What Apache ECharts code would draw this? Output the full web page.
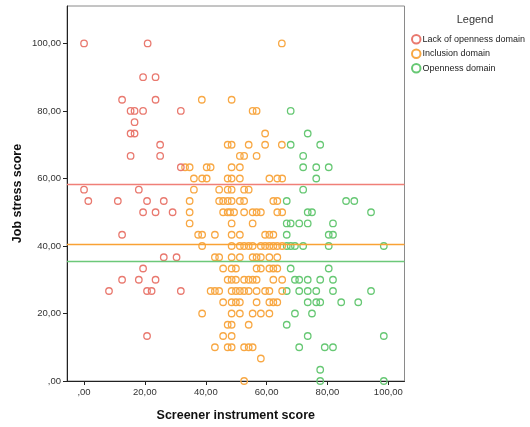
<!DOCTYPE html>
<html>
<head>
<meta charset="utf-8">
<script src="https://cdn.jsdelivr.net/npm/echarts@6/dist/echarts.min.js"></script>
<style>html,body{margin:0;padding:0;background:#fff}#c{width:530px;height:427px}</style>
</head>
<body>
<div id="c"></div>
<script>
// ---- data ----
const seriesNames = ['Lack of openness domain', 'Inclusion domain', 'Openness domain'];
const tickValues = [0, 20, 40, 60, 80, 100];
const meanLines = [58.2, 40.6, 35.4];

const lackPoints = [
  [0,100],[20.9,100],[19.4,90],[23.5,90],[12.5,83.33],[23.5,83.33],
  [15.3,80],[16.6,80],[19.4,80],[31.8,80],[16.6,76.67],[15.3,73.33],[16.6,73.33],
  [25,70],[15.3,66.67],[25,66.67],[31.8,63.33],[0,56.67],[18,56.67],
  [1.4,53.33],[11.1,53.33],[20.7,53.33],[26.2,53.33],[19.4,50],[23.5,50],[29.1,50],
  [12.5,43.33],[26.2,36.67],[30.4,36.67],[19.4,33.33],[12.5,30],[18,30],[23.5,30],
  [8.2,26.67],[20.7,26.67],[22.2,26.67],[31.8,26.67],[20.7,13.33]
];

const inclusionPoints = [
  [65,100],
  [38.7,83.33],[48.5,83.33],
  [55.4,80],[56.7,80],
  [59.5,73.33],
  [47.2,70],[48.5,70],[54.1,70],[59.5,70],[65,70],
  [51.2,66.67],[52.6,66.67],[56.7,66.67],
  [33.2,63.33],[34.7,63.33],[40.3,63.33],[41.6,63.33],[48.5,63.33],[51.2,63.33],
  [36.1,60],[38.8,60],[40.3,60],[47.2,60],[48.5,60],[51.2,60],[60.9,60],[63.5,60],[65.1,60],
  [36.1,56.67],[44.4,56.67],[47.2,56.67],[48.5,56.67],[52.6,56.67],[54.1,56.67],
  [34.7,53.33],[44.4,53.33],[45.7,53.33],[47.2,53.33],[48.5,53.33],[51.2,53.33],[52.6,53.33],[62.2,53.33],[63.5,53.33],
  [34.7,50],[45.7,50],[47.2,50],[48,50],[49.3,50],[52.6,50],[55.4,50],[56.7,50],[58.1,50],[63.5,50],[65.1,50],
  [34.7,46.67],[48.5,46.67],[55.4,46.67],
  [37.5,43.33],[38.8,43.33],[43,43.33],[48.5,43.33],[51.2,43.33],[59.5,43.33],[60.9,43.33],[62.2,43.33],
  [38.8,40],[48.5,40],[51.2,40],[52.6,40],[54.1,40],[55.4,40],[58.1,40],[59.5,40],[60.9,40],[62.2,40],[63.5,40],[65.1,40],
  [43,36.67],[44.4,36.67],[48.5,36.67],[51.2,36.67],[55.4,36.67],[56.7,36.67],[58.1,36.67],[60.9,36.67],[63.5,36.67],
  [45.7,33.33],[48.5,33.33],[49.9,33.33],[56.7,33.33],[58.1,33.33],[60.9,33.33],[62.2,33.33],[63.5,33.33],
  [47.2,30],[48.5,30],[49.9,30],[52.6,30],[54.1,30],[55.4,30],[56.7,30],[62.2,30],[65.1,30],
  [41.6,26.67],[43,26.67],[44.4,26.67],[48.5,26.67],[49.9,26.67],[51.2,26.67],[52.6,26.67],[54.1,26.67],[56.7,26.67],[59.5,26.67],[60.9,26.67],[65.1,26.67],
  [45.7,23.33],[48.5,23.33],[49.9,23.33],[51.2,23.33],[56.7,23.33],[60.9,23.33],[62.2,23.33],[63.5,23.33],
  [38.8,20],[48.5,20],[51.2,20],[55.4,20],[58.1,20],[60.9,20],
  [47.2,16.67],[48.5,16.67],[54.1,16.67],
  [45.7,13.33],[48.5,13.33],
  [43,10],[47.2,10],[48.5,10],[52.6,10],[54.1,10],[55.4,10],
  [58.1,6.67],
  [52.6,0]
];

const opennessPoints = [
  [67.9,80],
  [73.5,73.33],
  [67.9,70],[77.6,70],
  [72,66.67],
  [72,63.33],[76.3,63.33],[80.4,63.33],
  [76.3,60],
  [72,56.67],
  [66.6,53.33],[86.1,53.33],[88.8,53.33],
  [73.5,50],[74.9,50],[94.3,50],
  [66.6,46.67],[67.9,46.67],[70.7,46.67],[73.5,46.67],[81.8,46.67],
  [66.6,43.33],[80.4,43.33],[81.8,43.33],
  [66.6,40],[67.9,40],[69.3,40],[72,40],[80.4,40],[98.5,40],
  [67.9,33.33],[80.4,33.33],
  [69.3,30],[70.7,30],[73.5,30],[77.6,30],[81.8,30],
  [66.6,26.67],[70.7,26.67],[73.5,26.67],[76.3,26.67],[81.8,26.67],[94.3,26.67],
  [73.5,23.33],[76.3,23.33],[77.6,23.33],[84.5,23.33],[90.1,23.33],
  [69.3,20],[74.9,20],
  [66.6,16.67],
  [73.5,13.33],[98.5,13.33],
  [70.7,10],[79.1,10],[81.8,10],
  [77.6,3.33],
  [77.6,0],[98.5,0]
];

// ---- chart ----
const pointColors = ['#e9796f', '#f8a844', '#67c874'];
const lineColors = ['#f07f78', '#f9a234', '#6cc879'];
const allPoints = [lackPoints, inclusionPoints, opennessPoints];

const fmt = v => (Math.abs(v) < 1e-9 ? ',00' : v.toFixed(2).replace('.', ','));
const FONT = 'Liberation Sans, Arial, sans-serif';

const chart = echarts.init(document.getElementById('c'), null, {renderer: 'canvas'});
chart.setOption({
  animation: false,
  backgroundColor: '#fff',
  title: {
    text: 'Legend', left: 470, top: 9, textAlign: 'center',
    textStyle: {fontFamily: FONT, fontSize: 11, fontWeight: 'normal', color: '#333'}
  },
  legend: {
    orient: 'vertical', left: 406, top: 29, itemGap: 4,
    itemWidth: 8.5, itemHeight: 8.5, icon: 'circle',
    textStyle: {fontFamily: FONT, fontSize: 9, color: '#222', padding: [0, 0, 0, -3]},
    data: seriesNames
  },
  grid: {
    left: 67, top: 6, right: 125.5, bottom: 42.7,
    show: true, borderColor: '#8a8a8a', borderWidth: 1, backgroundColor: 'transparent'
  },
  xAxis: {
    type: 'value', min: -5.6, max: 105.3,
    name: 'Screener instrument score', nameLocation: 'middle', nameGap: 28,
    nameTextStyle: {fontFamily: FONT, fontSize: 12.5, fontWeight: 'bold', color: '#111'},
    axisLine: {show: true, onZero: false, lineStyle: {color: '#222', width: 1}},
    axisTick: {show: true, length: 4, lineStyle: {color: '#222'}, customValues: tickValues},
    axisLabel: {customValues: tickValues, formatter: fmt, fontFamily: FONT, fontSize: 9.5, color: '#333', margin: 6},
    splitLine: {show: false}
  },
  yAxis: {
    type: 'value', min: 0, max: 111.1,
    name: 'Job stress score', nameLocation: 'middle', nameGap: 43, nameRotate: 90,
    nameMoveOverlap: false,
    nameTextStyle: {fontFamily: FONT, fontSize: 12.5, fontWeight: 'bold', color: '#111'},
    axisLine: {show: true, onZero: false, lineStyle: {color: '#222', width: 1}},
    axisTick: {show: true, length: 4, lineStyle: {color: '#222'}, customValues: tickValues},
    axisLabel: {customValues: tickValues, formatter: fmt, fontFamily: FONT, fontSize: 9.5, color: '#333', margin: 6},
    splitLine: {show: false}
  },
  series: seriesNames.map((name, i) => ({
    name: name,
    type: 'scatter',
    symbol: 'circle',
    symbolSize: 6.5,
    clip: true,
    data: allPoints[i],
    itemStyle: {color: 'rgba(255,255,255,0)', borderColor: pointColors[i], borderWidth: 1.3, opacity: 1},
    emphasis: {disabled: true},
    markLine: {
      silent: true, symbol: 'none', animation: false,
      label: {show: false},
      lineStyle: {color: lineColors[i], type: 'solid', width: 1.3},
      data: [{yAxis: meanLines[i]}]
    },
    z: 3 - i
  }))
});
</script>
</body>
</html>
